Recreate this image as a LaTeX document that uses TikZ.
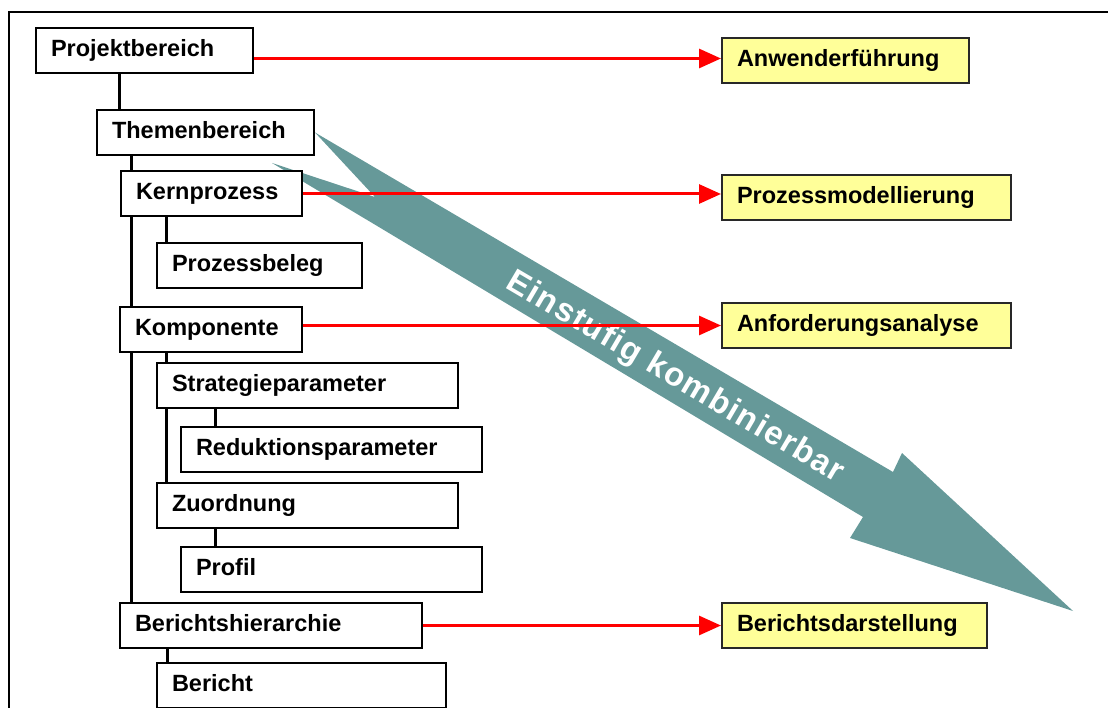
\documentclass[tikz,border=0pt]{standalone}
\usepackage{fontspec}
\setmainfont{Liberation Sans}
\usetikzlibrary{arrows.meta,backgrounds}
\definecolor{arrowteal}{RGB}{102,153,153}
\definecolor{noteyellow}{RGB}{255,255,153}
\definecolor{boxgray}{RGB}{40,40,40}

\begin{document}
\begin{tikzpicture}[x=1pt,y=-1pt,
  unitbox/.style={draw=black, line width=2pt, fill=white, anchor=north west,
    inner xsep=15pt, inner ysep=0pt, minimum height=45pt, text width=#1,
    align=left, text height=17pt, text depth=5pt,
    font=\fontsize{23.5}{27}\selectfont\bfseries},
  targetbox/.style={unitbox=#1, fill=noteyellow, draw=boxgray},
  tree/.style={line width=3pt, line cap=rect},
  link/.style={draw=red, line width=3pt, -{Triangle[length=22pt,width=19pt]}},
]
\useasboundingbox (0,0) rectangle (1108,708);

% frame
\draw[line width=2pt] (9,708) -- (9,12) -- (1108,12);

% hierarchy
\node[unitbox=187pt] (proj)    at (35,27)   {Projektbereich};
\node[unitbox=187pt] (them)    at (96,109)  {Themenbereich};
\node[unitbox=151pt] (kern)    at (120,170) {Kernprozess};
\node[unitbox=175pt] (beleg)   at (156,242) {Prozessbeleg};
\node[unitbox=152pt] (komp)    at (119,306) {Komponente};
\node[unitbox=271pt] (strat)   at (156,362) {Strategieparameter};
\node[unitbox=271pt] (redu)    at (180,426) {Reduktionsparameter};
\node[unitbox=271pt] (zuord)   at (156,482) {Zuordnung};
\node[unitbox=271pt] (profil)  at (180,546) {Profil};
\node[unitbox=272pt] (hier)    at (119,602) {Berichtshierarchie};
\node[unitbox=259pt] (bericht) at (156,662) {Bericht};

% views
\node[targetbox=217pt] (anw)  at (721,37)  {Anwenderführung};
\node[targetbox=259pt] (pmod) at (721,174) {Prozessmodellierung};
\node[targetbox=259pt] (anf)  at (721,302) {Anforderungsanalyse};
\node[targetbox=235pt] (bdar) at (721,602) {Berichtsdarstellung};

\begin{scope}[on background layer]
  % broad combination arrow
  \fill[arrowteal] (them.east) -- (893,472) -- (902,453) -- (1073,611)
    -- (850,538) -- (863,517) -- (272,163) -- (375,197) -- cycle;
  \node[rotate=-30.5, text=white, inner sep=0pt,
        font=\fontsize{33}{40}\selectfont\bfseries\addfontfeature{LetterSpace=4}]
        (combo) at (675,378) {Einstufig kombinierbar};

  % tree connectors
  \coordinate (t1) at ([xshift=23pt]them.north west);
  \coordinate (s1) at ([xshift=12pt]hier.north west);
  \coordinate (b1) at ([xshift=10pt]beleg.north west);
  \coordinate (z1) at ([xshift=10pt]zuord.north west);
  \coordinate (r1) at ([xshift=35pt]redu.north west);
  \coordinate (p1) at ([xshift=35pt]profil.north west);
  \coordinate (e1) at ([xshift=11pt]bericht.north west);
  \draw[tree] (t1) -- (t1 |- proj.south);
  \draw[tree] (s1) -- (s1 |- them.south);
  \draw[tree] (b1) -- (b1 |- kern.south);
  \draw[tree] (z1) -- (z1 |- komp.south);
  \draw[tree] (r1) -- (r1 |- strat.south);
  \draw[tree] (p1) -- (p1 |- zuord.south);
  \draw[tree] (e1) -- (e1 |- hier.south);
\end{scope}

% mappings to views
\coordinate (a1) at ([yshift=2pt]anw.west);
\coordinate (a2) at ([yshift=3.5pt]pmod.west);
\draw[link] (proj.east |- a1) -- (a1);
\draw[link] (kern.east |- a2) -- (a2);
\draw[link] (komp.east |- anf.west) -- (anf.west);
\draw[link] (hier.east |- bdar.west) -- (bdar.west);
\end{tikzpicture}
\end{document}
